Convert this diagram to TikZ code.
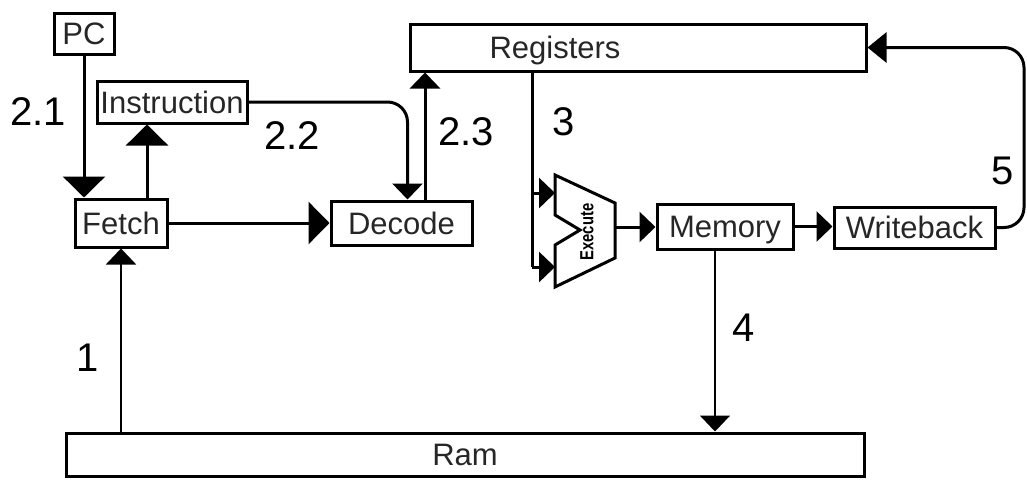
\documentclass[tikz,border=0pt]{standalone}
\usepackage{fontspec}
\setmainfont{Liberation Sans}
\usetikzlibrary{arrows.meta,calc}
\tikzset{
  box/.style={draw=black, line width=3pt, inner sep=0pt, text=black!85,
    font=\fontsize{31}{37}\selectfont, text height=22pt, text depth=0pt},
  boxtext/.style={inner sep=0pt, text=black!85, font=\fontsize{31}{37}\selectfont,
    text height=22pt, text depth=0pt},
  conn/.style={draw=black, line width=3pt},
  thinconn/.style={draw=black, line width=2pt},
  steplabel/.style={inner sep=0pt, text=black, font=\fontsize{40}{48}\selectfont},
  bigtip/.style={-{Triangle[width=42pt,length=21pt]}},
  midtip/.style={-{Triangle[width=30pt,length=19pt]}},
  smalltip/.style={-{Triangle[width=30pt,length=16pt]}},
  alutip/.style={-{Triangle[width=30pt,length=16pt]}}
}
\begin{document}
\begin{tikzpicture}[x=1pt,y=-1pt]
\useasboundingbox (0,0) rectangle (1027,479);

% boxes
\node[box, minimum width=60pt, minimum height=41pt] (pc) at (84,33.5) {PC};
\node[box, minimum width=150pt, minimum height=42pt] (ins) at (172,102) {Instruction};
\node[box, minimum width=92pt, minimum height=48pt] (fetch) at (121,223) {Fetch};
\node[box, minimum width=141pt, minimum height=44pt] (dec) at (401.5,223) {Decode};
\node[box, minimum width=456pt, minimum height=47pt] (reg) at (638,47.5) {};
\node[boxtext] (regtext) at (555,47.5) {Registers};
\node[box, minimum width=136pt, minimum height=45pt] (mem) at (725,226.5) {Memory};
\node[box, minimum width=161pt, minimum height=41pt] (wb) at (914.5,227.5) {Writeback};
\node[box, minimum width=798pt, minimum height=43pt] (ram) at (465,454.5) {Ram};

% ALU (execute) shape
\coordinate (a1) at (555,175);
\coordinate (a2) at (615,203);
\coordinate (a3) at (615,258);
\coordinate (a4) at (555,287);
\coordinate (a5) at (555,245);
\coordinate (a6) at (580,230);
\coordinate (a7) at (555,215);
\coordinate (ain1) at (555,193);
\coordinate (ain2) at (555,267);
\coordinate (aout) at (615,227);
\draw[line width=3pt, line join=miter] (a1) -- (a2) -- (a3) -- (a4) -- (a5) -- (a6) -- (a7) -- cycle;
\node[rotate=90, inner sep=0pt, font=\fontsize{19}{19}\selectfont\bfseries] (exe) at (587,232) {\scalebox{0.78}[1]{Execute}};

% connectors
\draw[conn, bigtip] (pc.south) -- (pc.south |- fetch.north);
\draw[conn, bigtip] ([xshift=26pt]fetch.north) -- ([xshift=26pt]fetch.north |- ins.south);
\draw[conn, bigtip] (fetch.east) -- (dec.west);
\draw[conn, smalltip, rounded corners=20pt] (ins.east) -| ([xshift=6pt]dec.north);
\draw[conn, smalltip] ([xshift=23.5pt]dec.north) -- ([xshift=23.5pt]dec.north |- reg.south);

\draw[conn] ([xshift=-106pt]reg.south) -- ([xshift=-106pt]reg.south |- ain2);
\draw[conn, alutip] ([xshift=-106pt]reg.south |- ain1) -- (ain1);
\draw[conn, alutip] ([xshift=-106pt]reg.south |- ain2) -- (ain2);
\draw[conn, alutip] (aout) -- (aout -| mem.west);
\draw[conn, alutip] (mem.east) -- (mem.east -| wb.west);
\draw[conn, midtip, rounded corners=20pt] (wb.east) -| (1024,47.5) -- (reg.east);

\draw[thinconn, smalltip] ([xshift=-10pt]mem.south) -- ([xshift=-10pt]mem.south |- ram.north);
\draw[thinconn, smalltip] (ram.north -| fetch.south) -- (fetch.south);

% step labels
\node[steplabel] (l21) at (38,112) {2.1};
\node[steplabel] (l22) at (292,136) {2.2};
\node[steplabel] (l23) at (466,132) {2.3};
\node[steplabel] (l3) at (564,122) {3};
\node[steplabel] (l5) at (1003,171) {5};
\node[steplabel] (l1) at (88,358) {1};
\node[steplabel] (l4) at (744,328) {4};
\end{tikzpicture}
\end{document}
